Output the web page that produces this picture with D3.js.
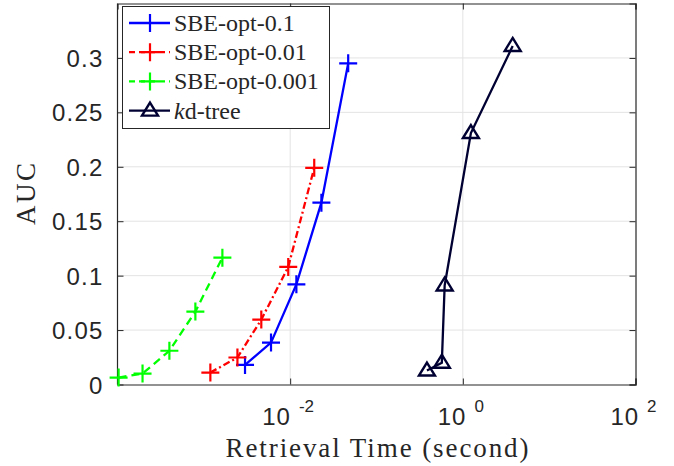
<!DOCTYPE html>
<html>
<head>
<meta charset="utf-8">
<script src="https://cdn.jsdelivr.net/npm/d3@7"></script>
<style>
  body { margin: 0; background: #fff; }
  svg { display: block; }
</style>
</head>
<body>
<svg id="chart" width="674" height="466"></svg>
<script>
// values
let sbe01Time = [0.0030, 0.0060, 0.0118, 0.023, 0.047];
let sbe01Auc = [0.018, 0.0385, 0.092, 0.167, 0.295];
let sbe001Time = [0.00119, 0.00245, 0.00463, 0.0095, 0.019];
let sbe001Auc = [0.011, 0.0248, 0.0596, 0.108, 0.199];
let sbe0001Time = [0.000103, 0.000195, 0.000399, 0.000798, 0.00164];
let sbe0001Auc = [0.0064, 0.010, 0.031, 0.067, 0.1165];
let kdTime = [0.384, 0.571, 0.616, 1.24, 3.78];
let kdAuc = [0.0128, 0.020, 0.091, 0.231, 0.311];

let xTicks = [1e-2, 1e0, 1e2];
let xTickExp = ["-2", "0", "2"];
let yTicks = [0, 0.05, 0.1, 0.15, 0.2, 0.25, 0.3];

let series = [
    { name: "SBE-opt-0.1", x: sbe01Time, y: sbe01Auc, color: "#0000ff", dash: null, marker: "plus" },
    { name: "SBE-opt-0.01", x: sbe001Time, y: sbe001Auc, color: "#ff0000", dash: "7,3,2,3", marker: "plus" },
    { name: "SBE-opt-0.001", x: sbe0001Time, y: sbe0001Auc, color: "#00ff00", dash: "8,5", marker: "plus" },
    { name: "kd-tree", x: kdTime, y: kdAuc, color: "#000033", dash: null, marker: "tri" }
];

let serif = "'Liberation Serif', 'Times New Roman', serif";
let sans = "'Liberation Sans', Arial, sans-serif";

let svg = d3.select("#chart");
let x = d3.scaleLog().domain([1e-4, 1e2]).range([117.5, 635.5]);
let y = d3.scaleLinear().domain([0, 0.35]).range([384.5, 3.5]);
let axisColor = "#262626";

// grid
svg.append("g").selectAll("line")
    .data(yTicks.filter(d => d > 0)).enter()
    .append("line")
    .attr("x1", x.range()[0]).attr("x2", x.range()[1])
    .attr("y1", d => y(d)).attr("y2", d => y(d))
    .attr("stroke", "#e3e3e3").attr("stroke-width", 1);
svg.append("g").selectAll("line")
    .data(xTicks.slice(0, 2)).enter()
    .append("line")
    .attr("x1", d => x(d)).attr("x2", d => x(d))
    .attr("y1", y.range()[0]).attr("y2", y.range()[1])
    .attr("stroke", "#e3e3e3").attr("stroke-width", 1);

// axes with inner ticks
let gx = svg.append("g").attr("transform", "translate(0," + y.range()[0] + ")")
    .call(d3.axisBottom(x).tickValues(xTicks).tickSize(-6).tickFormat(""));
let gxTop = svg.append("g").attr("transform", "translate(0," + y.range()[1] + ")")
    .call(d3.axisTop(x).tickValues(xTicks).tickSize(-6).tickFormat(""));
let gy = svg.append("g").attr("transform", "translate(" + x.range()[0] + ",0)")
    .call(d3.axisLeft(y).tickValues(yTicks).tickSize(-6).tickPadding(14)
        .tickFormat(d => d === 0 ? "0" : d3.format("")(+d.toFixed(2))));
let gyRight = svg.append("g").attr("transform", "translate(" + x.range()[1] + ",0)")
    .call(d3.axisRight(y).tickValues(yTicks).tickSize(-6).tickFormat(""));

[gx, gxTop, gy, gyRight].forEach(g => {
    g.select(".domain").attr("stroke", axisColor).attr("stroke-width", 1.2);
    g.selectAll(".tick line").attr("stroke", axisColor);
});
gy.selectAll(".tick text")
    .style("font-family", sans)
    .style("font-size", "24px")
    .style("letter-spacing", "1.2px")
    .attr("fill", axisColor)
    .attr("dy", "0.36em");
gy.select(".domain").attr("d", "M0," + y.range()[0] + "V" + y.range()[1]);

// x tick labels: 10^n
let xl = svg.append("g").selectAll("text")
    .data(xTicks).enter()
    .append("text")
    .style("font-family", sans)
    .style("font-size", "24px")
    .attr("x", d => x(d) - 2)
    .attr("y", 425)
    .attr("text-anchor", "middle")
    .attr("fill", axisColor);
xl.append("tspan").text("10").style("letter-spacing", "1px");
xl.append("tspan").attr("dx", 8).attr("dy", -13).style("font-size", "17px")
    .text((d, i) => xTickExp[i]);

// axis titles
svg.append("text")
    .style("font-family", serif)
    .style("font-size", "27px")
    .attr("x", 377).attr("y", 457)
    .attr("text-anchor", "middle")
    .attr("fill", axisColor)
    .attr("textLength", 303).attr("lengthAdjust", "spacing")
    .text("Retrieval Time (second)");
svg.append("text")
    .style("font-family", serif)
    .style("font-size", "27px")
    .attr("transform", "translate(35,194) rotate(-90)")
    .attr("text-anchor", "middle")
    .attr("fill", axisColor)
    .attr("textLength", 62).attr("lengthAdjust", "spacing")
    .text("AUC");

// markers
function drawMarker(g, type, cx, cy, color) {
    if (type === "plus") {
        g.append("path")
            .attr("d", "M" + (cx - 9) + "," + cy + "H" + (cx + 9) + "M" + cx + "," + (cy - 9) + "V" + (cy + 9))
            .attr("stroke", color).attr("stroke-width", 2.2).attr("fill", "none");
    } else {
        g.append("path")
            .attr("d", "M" + cx + "," + (cy - 8) + "L" + (cx + 8) + "," + (cy + 5) + "L" + (cx - 8) + "," + (cy + 5) + "Z")
            .attr("stroke", color).attr("stroke-width", 2.4).attr("fill", "none")
            .attr("stroke-linejoin", "miter");
    }
}

let line = d3.line().x(d => x(d[0])).y(d => y(d[1]));
let plot = svg.append("g");
series.forEach(s => {
    let pts = s.x.map((v, i) => [v, s.y[i]]);
    plot.append("path")
        .attr("d", line(pts))
        .attr("fill", "none")
        .attr("stroke", s.color)
        .attr("stroke-width", 2.3)
        .attr("stroke-dasharray", s.dash);
    pts.forEach(p => drawMarker(plot, s.marker, x(p[0]), y(p[1]), s.color));
});

// legend
let legend = svg.append("g");
legend.append("rect")
    .attr("x", 122.5).attr("y", 6.5).attr("width", 207).attr("height", 122)
    .attr("fill", "#fff").attr("stroke", axisColor).attr("stroke-width", 1);
series.forEach((s, i) => {
    let ly = 23 + i * 29.2;
    legend.append("line")
        .attr("x1", 129).attr("x2", 170).attr("y1", ly).attr("y2", ly)
        .attr("stroke", s.color).attr("stroke-width", 2.3)
        .attr("stroke-dasharray", s.dash ? "6,4" : null);
    drawMarker(legend, s.marker, 150, ly, s.color);
    let t = legend.append("text")
        .style("font-family", serif)
        .style("font-size", "24px")
        .attr("x", 174).attr("y", ly + 8)
        .attr("fill", axisColor);
    if (s.name === "kd-tree") {
        t.append("tspan").style("font-style", "italic").text("k");
        t.append("tspan").text("d-tree");
    } else {
        t.text(s.name);
    }
});
</script>
</body>
</html>
